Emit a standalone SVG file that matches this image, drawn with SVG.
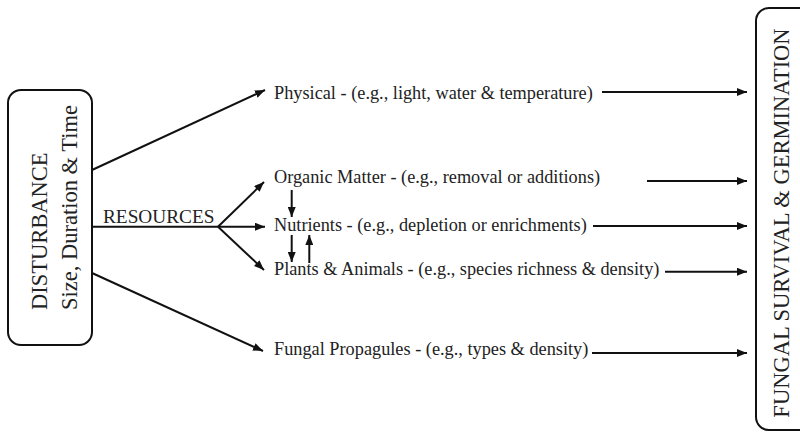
<svg xmlns="http://www.w3.org/2000/svg" width="800" height="433" viewBox="0 0 800 433">
<defs>
<marker id="ah" viewBox="0 0 10 8" refX="10" refY="4" markerWidth="10" markerHeight="8" markerUnits="userSpaceOnUse" orient="auto"><path d="M0,0 L10,4 L0,8 Z" fill="#111"/></marker>
</defs>
<style>
.box{fill:#fff;stroke:#111;stroke-width:2}
text{font-family:'Liberation Serif','DejaVu Serif',serif;fill:#222}
.lbl{font-size:18.3px}
.big{font-size:22.5px}
.c path{stroke:#111;stroke-width:2;fill:none}
.c .a{marker-end:url(#ah)}
</style>
<rect width="800" height="433" fill="#fff"/>
<g id="disturbance" font-family="Liberation Serif, serif">
<rect class="box" x="8" y="90" width="84" height="255" rx="13"/>
<text class="big" transform="translate(47,310) rotate(-90)">DISTURBANCE</text>
<text class="big" transform="translate(77,310) rotate(-90)">Size, Duration &amp; Time</text>
</g>
<g id="fungal-survival">
<rect class="box" x="756" y="8" width="70" height="422" rx="13"/>
<text class="big" text-anchor="middle" transform="translate(789,223) rotate(-90)">FUNGAL SURVIVAL &amp; GERMINATION</text>
</g>
<g id="resources-label">
<text x="103" y="222.7" font-size="19.3">RESOURCES</text>
</g>
<g id="physical"><text class="lbl" x="274" y="99">Physical - (e.g., light, water &amp; temperature)</text></g>
<g id="organic"><text class="lbl" x="274" y="182.5">Organic Matter - (e.g., removal or additions)</text></g>
<g id="nutrients"><text class="lbl" x="274" y="230.7">Nutrients - (e.g., depletion or enrichments)</text></g>
<g id="plants"><text class="lbl" x="274" y="275">Plants &amp; Animals - (e.g., species richness &amp; density)</text></g>
<g id="propagules"><text class="lbl" x="274" y="355">Fungal Propagules - (e.g., types &amp; density)</text></g>
<g id="connectors" class="c">
<path class="a" d="M92,170 L265,90"/>
<path d="M92,226.7 L218,226.7"/>
<path class="a" d="M218,226.7 L264,182"/>
<path class="a" d="M218,226.7 L265,226.7"/>
<path class="a" d="M218,226.7 L264,270"/>
<path class="a" d="M92,273 L263,351"/>
<path class="a" d="M291.7,190 L291.7,217"/>
<path class="a" d="M291.7,235 L291.7,262"/>
<path class="a" d="M309.3,263 L309.3,235"/>
<path class="a" d="M602,92 L747,92"/>
<path class="a" d="M647,181 L747,181"/>
<path class="a" d="M593,226 L747,226"/>
<path class="a" d="M665,271.7 L747,271.7"/>
<path class="a" d="M592,353 L747,353"/>
</g>
</svg>
